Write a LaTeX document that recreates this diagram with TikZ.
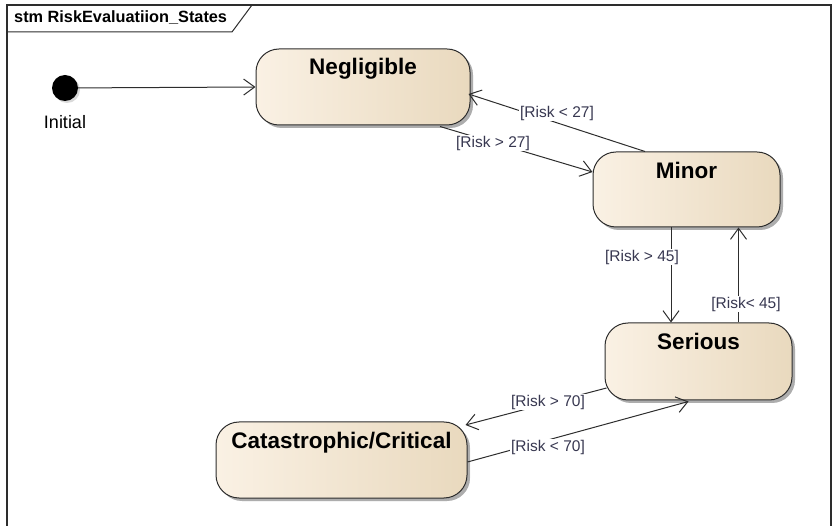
\documentclass[tikz,border=0pt]{standalone}
\usepackage{fontspec}
\setmainfont{Liberation Sans}
\usetikzlibrary{calc,arrows.meta,shadows}
\definecolor{stateLeft}{RGB}{250,241,228}
\definecolor{stateRight}{RGB}{233,217,190}
\definecolor{edgeGray}{RGB}{45,45,45}
\definecolor{guardText}{RGB}{55,55,80}

\tikzset{
  state/.style={draw=edgeGray, line width=1pt, rounded corners=23pt,
    left color=stateLeft, right color=stateRight,
    drop shadow={shadow xshift=3pt, shadow yshift=-3pt, opacity=0.35,
      left color=black!60, right color=black!60}},
  statename/.style={anchor=north, inner sep=0pt,
    font=\fontsize{22.5}{25}\selectfont\bfseries},
  guard/.style={fill=white, inner sep=1pt, text=guardText,
    font=\fontsize{15.5}{17}\selectfont},
  trans/.style={draw=edgeGray, line width=1pt,
    -{Straight Barb[length=11pt,width=16pt]}},
}

\begin{document}
\begin{tikzpicture}[x=1pt,y=-1pt]
    \useasboundingbox (0,0) rectangle (833,526);
    % frame with its name tab
    \draw[edgeGray, line width=1.2pt] (7,540) -- (7,5) -- (831,5) -- (831,540);
    \draw[edgeGray, line width=1pt] (7,32) -- (232,32) -- (252,5);
    \node[anchor=west, inner sep=0pt, font=\fontsize{16.3}{18}\selectfont\bfseries] (frame) at (14,18) {stm RiskEvaluatiion\_States};

    % initial pseudo state
    \node[circle, fill=black, minimum size=26pt, inner sep=0pt,
      drop shadow={shadow xshift=2pt, shadow yshift=-2pt, opacity=0.3}] (init) at (65,88) {};
    \node[font=\fontsize{18}{20}\selectfont] (initlbl) at (65,122) {Initial};

    % states
    \node[state, minimum width=214pt, minimum height=76pt] (neg) at (363,87) {};
    \node[state, minimum width=187pt, minimum height=75pt] (minor) at (686.5,189.5) {};
    \node[state, minimum width=187pt, minimum height=77pt] (serious) at (698.5,361.5) {};
    \node[state, minimum width=251pt, minimum height=76pt] (cat) at (341.5,460) {};
    \node[statename] (negt) at ($(neg.north)+(0,10)$) {Negligible};
    \node[statename] (minort) at ($(minor.north)+(0,10)$) {Minor};
    \node[statename] (seriust) at ($(serious.north)+(0,10)$) {Serious};
    \node[statename] (catt) at ($(cat.north)+(0,10)$) {Catastrophic/Critical};

    % transitions
    \draw[trans] (init) -- (neg.west);
    \draw[trans] ($(neg.south)+(77,1)$) -- ($(minor.west)+(0,-17.5)$);
    \draw[trans] ($(minor.north)+(-41.5,0)$) -- ($(neg.east)+(-2,7)$);
    \draw[trans] ($(minor.south)+(-15.5,0)$) -- ($(serious.north)+(-27.5,0)$);
    \draw[trans] ($(serious.north)+(40,0)$) -- ($(minor.south)+(52,0)$);
    \draw[trans] ($(serious.west)+(2,26.5)$) -- ($(cat.east)+(-2,-35)$);
    \draw[trans] ($(cat.east)+(0,2)$) -- ($(serious.south)+(-10,1)$);

    % guards
    \node[guard] (g27up) at (493,143) {[Risk > 27]};
    \node[guard] (g27dn) at (557,113) {[Risk < 27]};
    \node[guard] (g45up) at (642,257) {[Risk > 45]};
    \node[guard] (g45dn) at (746,304) {[Risk< 45]};
    \node[guard] (g70up) at (548,402) {[Risk > 70]};
    \node[guard] (g70dn) at (548,447) {[Risk < 70]};
\end{tikzpicture}
\end{document}
